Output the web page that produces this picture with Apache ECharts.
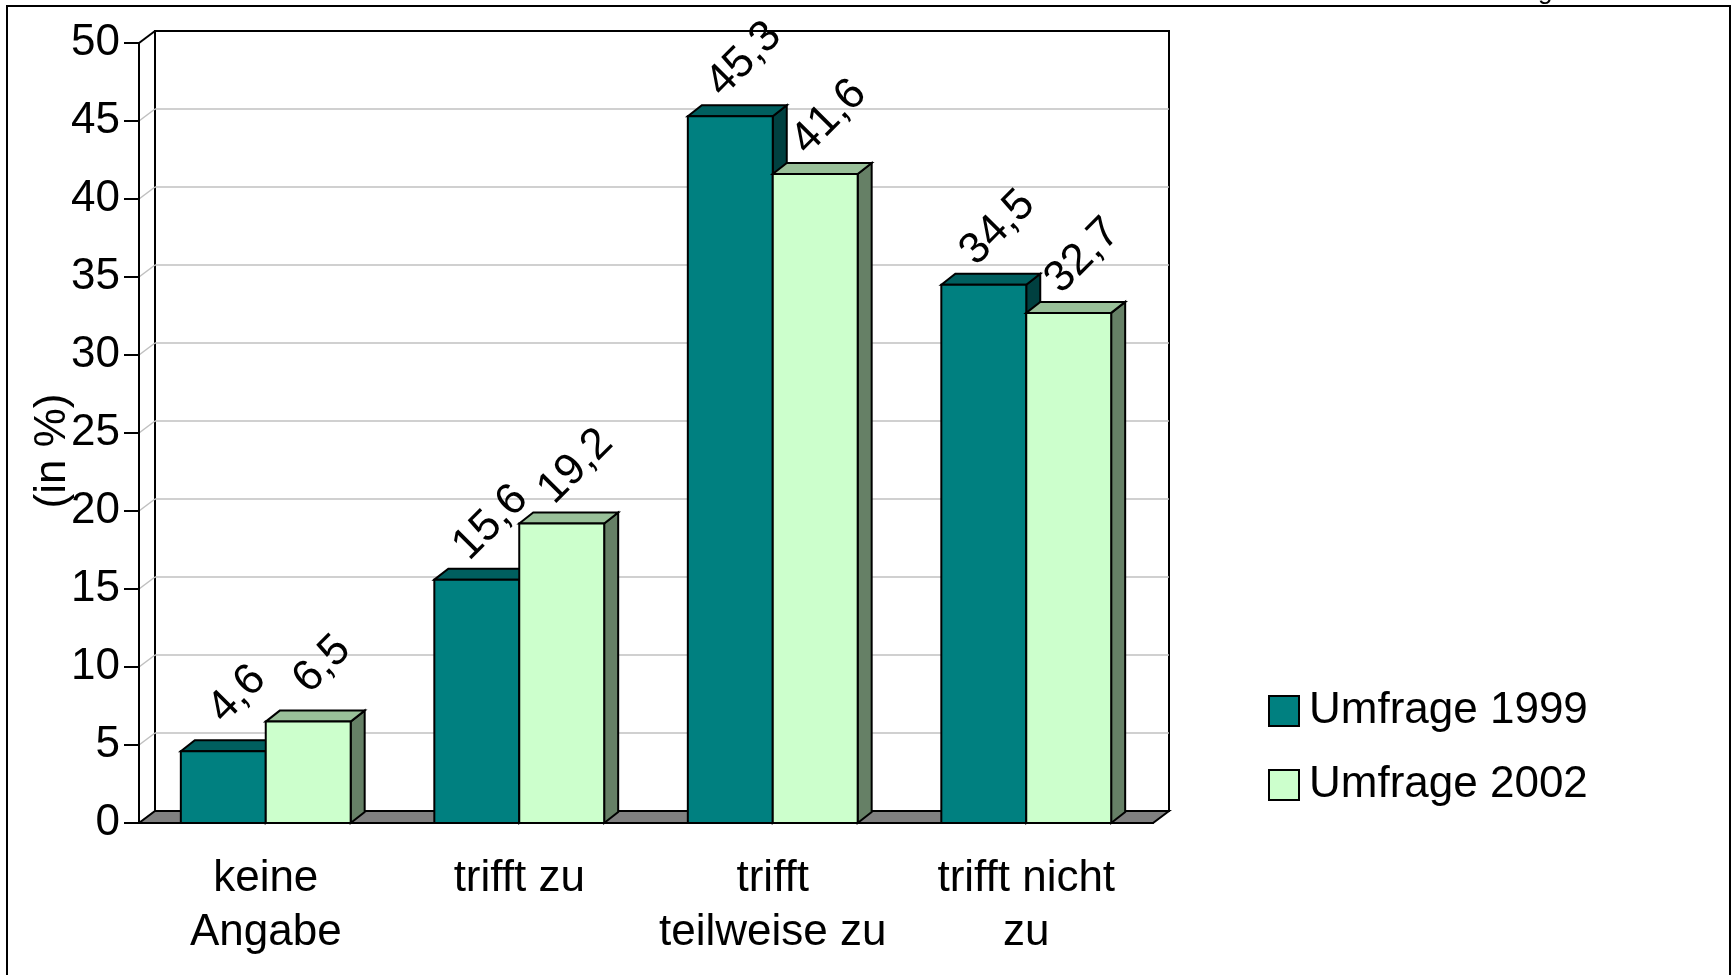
<!DOCTYPE html>
<html>
<head>
<meta charset="utf-8">
<script src="https://cdn.jsdelivr.net/npm/echarts@6/dist/echarts.min.js"></script>
<style>
  html, body { margin: 0; padding: 0; background: #fff; }
  #chart { width: 1735px; height: 975px; }
</style>
</head>
<body>
<div id="chart"></div>
<script>
  // Daten
  const categories = ['keine\nAngabe', 'trifft zu', 'trifft\nteilweise zu', 'trifft nicht\nzu'];
  const umfrage1999 = [4.6, 15.6, 45.3, 34.5];
  const umfrage2002 = [6.5, 19.2, 41.6, 32.7];
  const yTicks = [0, 5, 10, 15, 20, 25, 30, 35, 40, 45, 50];
  const seriesNames = ['Umfrage 1999', 'Umfrage 2002'];

  const FONT = '"Liberation Sans", Arial, sans-serif';
  const FS = 44;
  // Tiefe der Rückwand / der Säulen (Pseudo-3D)
  const DX = 16, DY = 12;
  const BDX = 14, BDY = 11;

  const colors = [
    { front: '#008080', top: '#005f5f', side: '#004040' },
    { front: '#ccffcc', top: '#99c099', side: '#668066' }
  ];

  let myChart = echarts.init(document.getElementById('chart'));

  function fmt(v) {
    return String(v).replace('.', ',');
  }

  // Rückwand, Seitenwand und Boden
  function renderFrame(params, api) {
    let cs = params.coordSys;
    let x = cs.x, y = cs.y, w = cs.width, h = cs.height;
    let children = [];
    children.push({
      type: 'rect',
      shape: { x: x + DX, y: y - DY, width: w, height: h },
      style: { fill: '#fff', stroke: '#000', lineWidth: 2 }
    });
    yTicks.forEach(function (t) {
      let ty = api.coord([0, t])[1];
      let last = t === yTicks[yTicks.length - 1];
      if (t > 0 && !last) {
        children.push({
          type: 'line',
          shape: { x1: x + DX, y1: ty - DY, x2: x + w + DX, y2: ty - DY },
          style: { stroke: '#c0c0c0', lineWidth: 1.5 }
        });
      }
      children.push({
        type: 'line',
        shape: { x1: x, y1: ty, x2: x + DX, y2: ty - DY },
        style: { stroke: last ? '#000' : '#c0c0c0', lineWidth: last ? 2 : 1.5 }
      });
    });
    // Boden
    children.push({
      type: 'polygon',
      shape: { points: [[x, y + h], [x + w, y + h], [x + w + DX, y + h - DY], [x + DX, y + h - DY]] },
      style: { fill: '#808080', stroke: '#000', lineWidth: 2 }
    });
    return { type: 'group', children: children };
  }

  function makeBarRenderer(si) {
    let c = colors[si];
    return function (params, api) {
      let idx = api.value(0);
      let val = api.value(1);
      let base = api.coord([idx, 0]);
      let topP = api.coord([idx, val]);
      let band = api.size([1, 0])[0];
      let bw = band * 0.335;
      let x0 = si === 0 ? base[0] - bw : base[0];
      let x1 = x0 + bw;
      let yb = base[1], yt = topP[1];
      let cx = (x0 + x1) / 2;
      return {
        type: 'group',
        children: [
          {
            type: 'polygon',
            shape: { points: [[x1, yb], [x1 + BDX, yb - BDY], [x1 + BDX, yt - BDY], [x1, yt]] },
            style: { fill: c.side, stroke: '#000', lineWidth: 2 }
          },
          {
            type: 'polygon',
            shape: { points: [[x0, yt], [x0 + BDX, yt - BDY], [x1 + BDX, yt - BDY], [x1, yt]] },
            style: { fill: c.top, stroke: '#000', lineWidth: 2 }
          },
          {
            type: 'rect',
            shape: { x: x0, y: yt, width: bw, height: yb - yt },
            style: { fill: c.front, stroke: '#000', lineWidth: 2 }
          },
          {
            type: 'text',
            x: cx + 14,
            y: yt - 57,
            rotation: Math.PI / 4,
            style: {
              text: fmt(val),
              x: 0, y: 0,
              align: 'center',
              verticalAlign: 'middle',
              font: FS + 'px ' + FONT,
              fill: '#000'
            }
          }
        ]
      };
    };
  }

  let option = {
    animation: false,
    textStyle: { fontFamily: FONT },
    grid: {
      left: 139,
      right: 582,
      top: 43,
      bottom: 152
    },
    legend: {
      orient: 'vertical',
      left: 1263,
      top: 684,
      itemWidth: 30,
      itemHeight: 30,
      itemGap: 30,
      icon: 'rect',
      itemStyle: { borderColor: '#000', borderWidth: 2 },
      textStyle: {
        fontSize: FS,
        lineHeight: 44,
        color: '#000',
        fontFamily: FONT,
        padding: [0, 0, 0, 5]
      },
      data: seriesNames
    },
    xAxis: {
      type: 'category',
      data: categories,
      z: 10,
      axisLine: { lineStyle: { color: '#000', width: 2 } },
      axisTick: { length: 13, lineStyle: { color: '#000', width: 2 } },
      axisLabel: {
        interval: 0,
        margin: 29,
        fontSize: FS,
        lineHeight: 54,
        color: '#000',
        fontFamily: FONT
      },
      splitLine: { show: false }
    },
    yAxis: {
      type: 'value',
      min: 0,
      max: 50,
      interval: 5,
      z: 10,
      axisLine: { show: true, lineStyle: { color: '#000', width: 2 } },
      axisTick: { show: true, length: 15, lineStyle: { color: '#000', width: 2 } },
      axisLabel: {
        margin: 19,
        fontSize: FS,
        color: '#000',
        fontFamily: FONT,
        padding: [4, 0, 0, 0]
      },
      splitLine: { show: false }
    },
    graphic: [
      {
        type: 'rect',
        shape: { x: 7, y: 6, width: 1723, height: 1000 },
        style: { fill: 'none', stroke: '#000', lineWidth: 2 },
        z: 20
      },
      {
        type: 'text',
        x: 1538,
        y: 5,
        style: { text: 'g', font: '26px ' + FONT, fill: '#000', verticalAlign: 'bottom' }
      },
      {
        type: 'text',
        x: 53,
        y: 451,
        rotation: Math.PI / 2,
        z: 20,
        style: {
          text: '(in %)',
          align: 'center',
          verticalAlign: 'middle',
          font: FS + 'px ' + FONT,
          fill: '#000'
        }
      }
    ],
    series: [
      {
        name: 'frame',
        type: 'custom',
        z: 1,
        silent: true,
        renderItem: renderFrame,
        data: [[0, 0]]
      },
      {
        name: seriesNames[0],
        type: 'custom',
        z: 2,
        itemStyle: { color: colors[0].front },
        renderItem: makeBarRenderer(0),
        data: umfrage1999.map(function (v, i) { return [i, v]; })
      },
      {
        name: seriesNames[1],
        type: 'custom',
        z: 3,
        itemStyle: { color: colors[1].front },
        renderItem: makeBarRenderer(1),
        data: umfrage2002.map(function (v, i) { return [i, v]; })
      }
    ]
  };

  myChart.setOption(option);
</script>
</body>
</html>
